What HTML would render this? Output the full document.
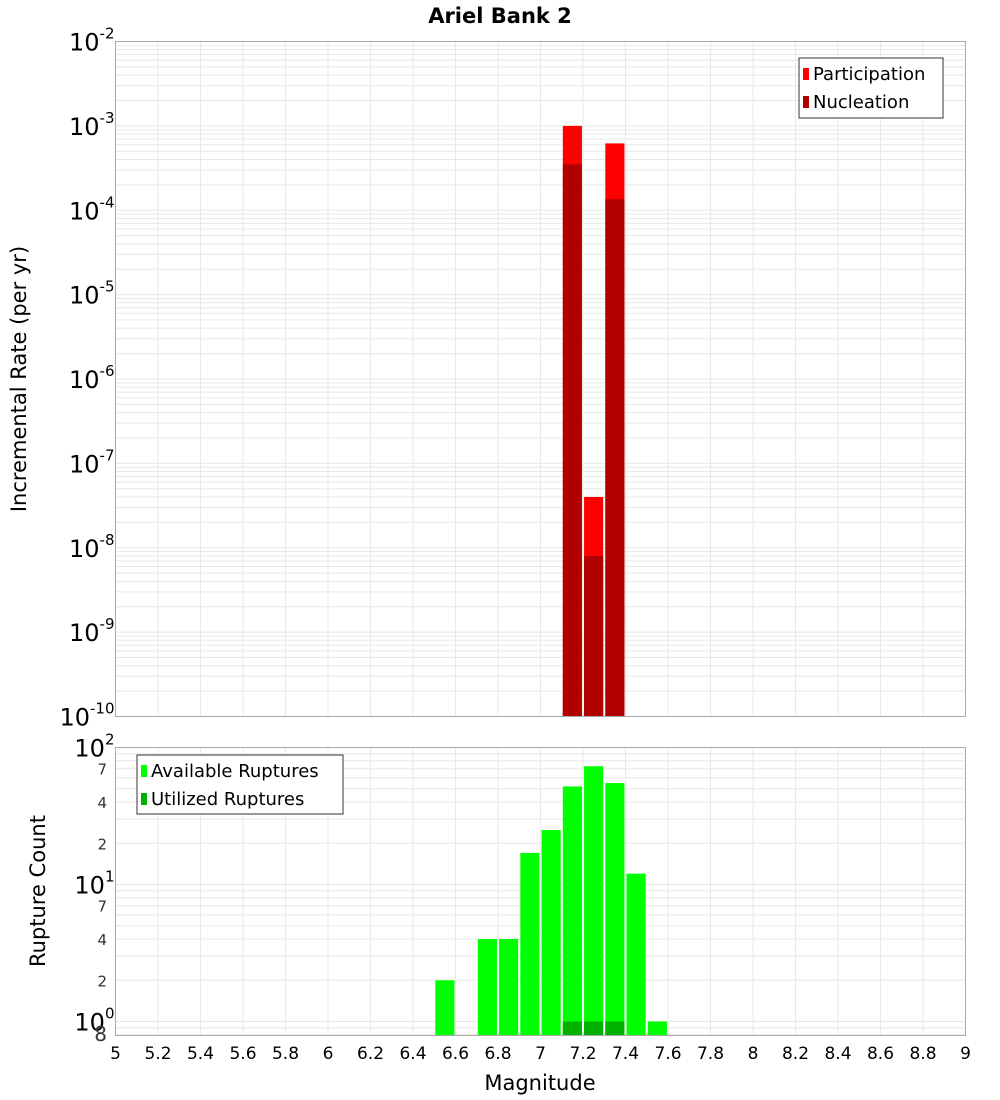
<!DOCTYPE html>
<html><head><meta charset="utf-8"><style>body{margin:0;background:#fff}svg{display:block;font-family:"DejaVu Sans","Liberation Sans",sans-serif}</style></head>
<body>
<svg id="c" width="1000" height="1100" xmlns="http://www.w3.org/2000/svg"></svg>
<script>
const topBins=[7.15,7.25,7.35];
const participation=[1.0e-3,4.0e-8,6.2e-4];
const nucleation=[3.5e-4,8.0e-9,1.35e-4];
const botBins=[6.55,6.75,6.85,6.95,7.05,7.15,7.25,7.35,7.45,7.55];
const available=[2,4,4,17,25,52,73,55,12,1];
const utilBins=[7.15,7.25,7.35];
const utilized=[1,1,1];
const xTicks=["5","5.2","5.4","5.6","5.8","6","6.2","6.4","6.6","6.8","7","7.2","7.4","7.6","7.8","8","8.2","8.4","8.6","8.8","9"];

const NS="http://www.w3.org/2000/svg",svg=document.getElementById('c');
function el(t,a,txt,p){const e=document.createElementNS(NS,t);for(const k in a)e.setAttribute(k,a[k]);if(txt!=null)e.textContent=txt;(p||svg).appendChild(e);return e;}
const L=115.5,R=965.5;
const x=v=>L+(v-5)/4*(R-L);
const T1=41.5,B1=716.5;
const y1=v=>T1+(-2-Math.log10(v))/8*(B1-T1);
const T2=747.5,B2=1035.5,D2=137;
const y2=v=>T2+(2-Math.log10(v))*D2;

function grid(T,B,yf,lo,hi,minY){
  const g=el('g',{});
  
  
  for(let i=0;i<=20;i++){el('line',{x1:x(5+i*0.2),x2:x(5+i*0.2),y1:T,y2:B,stroke:'#e8e8e8'},null,g);}
  for(let e=lo;e<hi;e++)for(let m=1;m<10;m++){const v=m*Math.pow(10,e);const yy=yf(v);if(yy>=T&&yy<=B&&v>=minY)el('line',{x1:L,x2:R,y1:yy,y2:yy,stroke:'#e8e8e8'},null,g);}
}
grid(T1,B1,y1,-10,-1,0);
grid(T2,B2,y2,-1,3,0.8);

const bw=0.09*(R-L)/4;
topBins.forEach((b,i)=>{
  let r=el('rect',{x:x(b)-bw/2,y:y1(participation[i]),width:bw,height:B1-y1(participation[i]),fill:'#ff0000'});
  
  
  r=el('rect',{x:x(b)-bw/2,y:y1(nucleation[i]),width:bw,height:B1-y1(nucleation[i]),fill:'#b20000'});
  
  
});
botBins.forEach((b,i)=>{
  const r=el('rect',{x:x(b)-bw/2,y:y2(available[i]),width:bw,height:B2-y2(available[i]),fill:'#00ff00'});
  
  
});
utilBins.forEach((b,i)=>{
  const r=el('rect',{x:x(b)-bw/2,y:y2(utilized[i]),width:bw,height:B2-y2(utilized[i]),fill:'#00b200'});
  
  
});
el('rect',{x:L,y:T1,width:R-L,height:B1-T1,fill:'none',stroke:'#aaa'});
el('rect',{x:L,y:T2,width:R-L,height:B2-T2,fill:'none',stroke:'#aaa'});

for(let e=-2;e>=-10;e--){
  const yy=y1(Math.pow(10,e));
  const t=el('text',{x:L-1,y:yy+9,'text-anchor':'end','font-size':24});
  
  
  el('tspan',{},'10',t);el('tspan',{dy:-12,'font-size':15},String(e),t);
}
[[100,'2'],[10,'1'],[1,'0']].forEach(([v,s])=>{
  const yy=y2(v);
  const t=el('text',{x:L-1,y:yy+9,'text-anchor':'end','font-size':24});
  
  
  el('tspan',{},'10',t);el('tspan',{dy:-12,'font-size':15},s,t);
});
[70,40,20,7,4,2,0.8].forEach(v=>{
  const t=el('text',{x:107,y:y2(v)+6,'text-anchor':'end','font-size':v==0.8?20:15,fill:'#333'},String(v==0.8?8:Math.round(v/(v>=10?10:1))));
  
  
});
xTicks.forEach(s=>{
  const t=el('text',{x:x(+s),y:1059,'text-anchor':'middle','font-size':17},s);
  
  
});
let t=el('text',{x:540,y:1090,'text-anchor':'middle','font-size':21},'Magnitude');


t=el('text',{x:26,y:379,'text-anchor':'middle','font-size':21,transform:'rotate(-90 26 379)'},'Incremental Rate (per yr)');


t=el('text',{x:45,y:891,'text-anchor':'middle','font-size':21,transform:'rotate(-90 45 891)'},'Rupture Count');


t=el('text',{x:500,y:23,'text-anchor':'middle','font-size':21,'font-weight':'bold'},'Ariel Bank 2');



function legend(x0,y0,w,h,items,nm){
  const g=el('g',{});
  
  
  el('rect',{x:x0,y:y0,width:w,height:h,fill:'#fff',stroke:'#333'},null,g);
  items.forEach(([c,s],i)=>{
    el('rect',{x:x0+4,y:y0+10+i*28,width:6,height:12,fill:c},null,g);
    el('text',{x:x0+14,y:y0+22+i*28,'font-size':18},s,g);
  });
}
legend(799,58,144,60,[['#ff0000','Participation'],['#b20000','Nucleation']],'legend-top');
legend(137,755,206,59,[['#00ff00','Available Ruptures'],['#00b200','Utilized Ruptures']],'legend-bottom');
</script>
</body></html>
